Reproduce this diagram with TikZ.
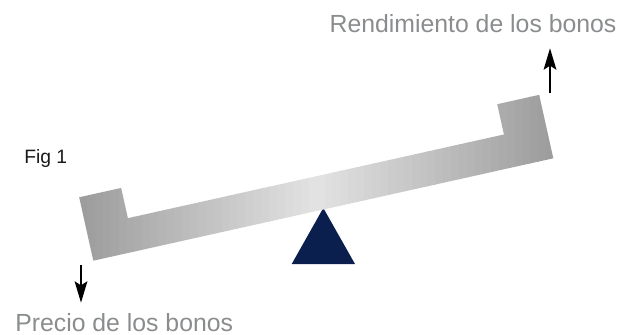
\documentclass[tikz,border=0pt]{standalone}
\usepackage{xcolor}
\usepackage{fontspec}
\setmainfont{Liberation Sans}
\usepackage{tikz}
\usetikzlibrary{calc,bending,arrows.meta}
\tikzset{>=stealth}
\definecolor{fulcrumblue}{RGB}{10,31,77}
\definecolor{labelgray}{RGB}{138,140,142}
\tikzset{
  label text/.style={text=labelgray,inner sep=0pt,font=\fontsize{18.6}{20}\selectfont},
  move arrow/.style={->,line width=1.7pt,>={Stealth[length=16pt,width=9.5pt,inset=3pt]}}
}

\begin{document}
\begin{tikzpicture}[x=0.75pt,y=-0.75pt]
        \useasboundingbox (0,0) rectangle (624,335);
        \fill[fulcrumblue](291.7,264) -- (323.3,208) -- (355,264) -- cycle;
        \begin{scope}[shift={(93.3,260.7)},rotate=12.55]
          \coordinate (b1) at (0,0);
          \coordinate (b2) at (471.3,0);
          \coordinate (b3) at (471.3,-65);
          \coordinate (b4) at (428.3,-65);
          \coordinate (b5) at (428.3,-34);
          \coordinate (b6) at (43,-34);
          \coordinate (b7) at (43,-65);
          \coordinate (b8) at (0,-65);
        \end{scope}
        \begin{scope}
          \clip(b1) -- (b2) -- (b3) -- (b4) -- (b5) -- (b6) -- (b7) -- (b8) -- cycle;
          \foreach \i in {0,...,59}{
            \pgfmathsetmacro\mix{22+56*abs(\i+0.5-30)/30}
            \fill[gray!\mix](79+\i*7.92,80) rectangle ++(8.4,200);
          }
        \end{scope}
        \path(24,163.3) node[anchor=base west,inner sep=0pt,font=\fontsize{14.5}{16}\selectfont,text=black!90] (fig) {Fig 1};
        \path(616.7,32.3) node[label text,anchor=base east] (yield) {Rendimiento de los bonos};
        \path(15,331) node[label text,anchor=base west] (price) {Precio de los bonos};
        \coordinate (yieldfoot) at (550,93.3);
        \coordinate (yieldtip) at (550,48.3);
        \coordinate (pricefoot) at (81,265);
        \coordinate (pricetip) at (81,302.7);
        \draw[move arrow](yieldfoot) -- (yieldtip);
        \draw[move arrow](pricefoot) -- (pricetip);
      \end{tikzpicture}
\end{document}
